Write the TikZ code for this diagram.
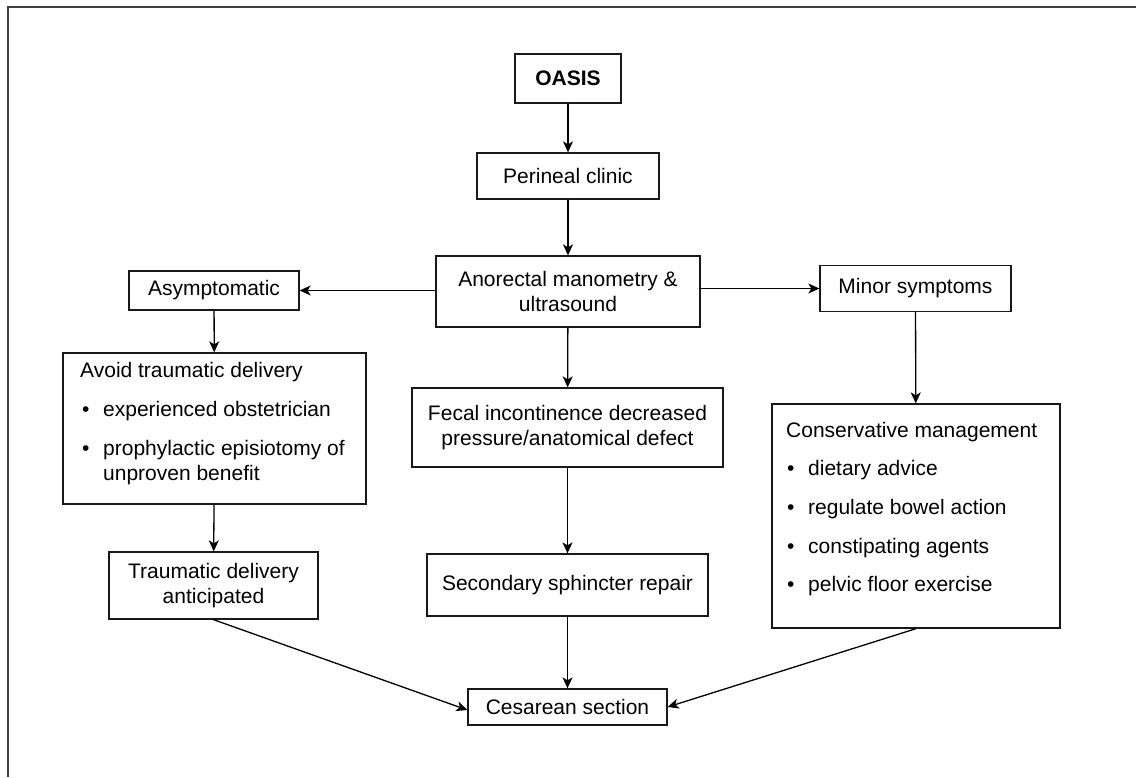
\documentclass[tikz,border=0pt]{standalone}
\usepackage{fontspec}
\setmainfont{Liberation Sans}
\usetikzlibrary{arrows.meta}
\tikzset{
  box/.style={draw=black!90, line width=1.3pt, inner sep=0pt, align=center, font=\fontsize{21}{24.5}\selectfont},
  txt/.style={inner sep=0pt, anchor=mid west, font=\fontsize{21}{24.5}\selectfont},
  arr/.style={line width=1.3pt, -{Stealth[length=11pt,width=10pt,inset=3pt]}},
  frame/.style={draw=black!75, line width=2pt}
}
\begin{document}
\begin{tikzpicture}[x=1pt,y=-1pt]
\useasboundingbox (0,0) rectangle (1136,777);
\coordinate (fa) at (8,777);
\coordinate (fb) at (8,7);
\coordinate (fc) at (1136,7);
\draw[frame] (fa) -- (fb) -- (fc);

\node[box, minimum width=106, minimum height=49] (oasis) at (568,78.5) {\bfseries OASIS};
\node[box, minimum width=182, minimum height=46] (clinic) at (568,176) {Perineal clinic};
\node[box, minimum width=264, minimum height=71] (mano) at (568,291.5) {Anorectal manometry \&\\ultrasound};
\node[box, minimum width=170, minimum height=39] (asym) at (214,290.5) {Asymptomatic};
\node[box, minimum width=191, minimum height=46] (minor) at (915.5,288.5) {Minor symptoms};
\node[box, minimum width=303, minimum height=151] (avoid) at (214.5,428.5) {};
\node[box, minimum width=311, minimum height=79] (fecal) at (567.5,427.5) {Fecal incontinence decreased\\pressure/anatomical defect};
\node[box, minimum width=288, minimum height=224] (cons) at (916,516) {};
\node[box, minimum width=209, minimum height=67] (trad) at (213.5,585.5) {Traumatic delivery\\anticipated};
\node[box, minimum width=281, minimum height=62] (repair) at (567.5,585) {Secondary sphincter repair};
\node[box, minimum width=199, minimum height=36] (ces) at (567.5,707) {Cesarean section};

% list in avoid box
\node[txt] (av0) at (80,375) {Avoid traumatic delivery};
\node[txt] (av1b) at (82,414) {•};
\node[txt] (av1) at (103,414) {experienced obstetrician};
\node[txt] (av2b) at (82,453) {•};
\node[txt] (av2) at (103,453) {prophylactic episiotomy of};
\node[txt] (av3) at (103,478) {unproven benefit};

% list in conservative box
\node[txt] (co0) at (786,435) {Conservative management};
\node[txt] (co1b) at (787,473) {•};
\node[txt] (co1) at (808,473) {dietary advice};
\node[txt] (co2b) at (787,512) {•};
\node[txt] (co2) at (808,512) {regulate bowel action};
\node[txt] (co3b) at (787,551) {•};
\node[txt] (co3) at (808,551) {constipating agents};
\node[txt] (co4b) at (787,589) {•};
\node[txt] (co4) at (808,589) {pelvic floor exercise};

\draw[arr] (mano.west |- asym.east) -- (asym.east);
\draw[arr] (oasis) -- (clinic);
\draw[arr] (clinic) -- (mano);
\draw[arr] (mano.east |- minor.west) -- (minor.west);
\draw[arr] (mano) -- (fecal);
\draw[arr] (fecal) -- (repair);
\draw[arr] (repair) -- (ces);
\draw[arr] (asym) -- (avoid);
\draw[arr] (avoid) -- (trad);
\draw[arr] (minor) -- (cons);
\draw[arr] (trad.south) -- ([yshift=-3pt]ces.west);
\draw[arr] (cons.south) -- (ces.east);
\end{tikzpicture}
\end{document}
